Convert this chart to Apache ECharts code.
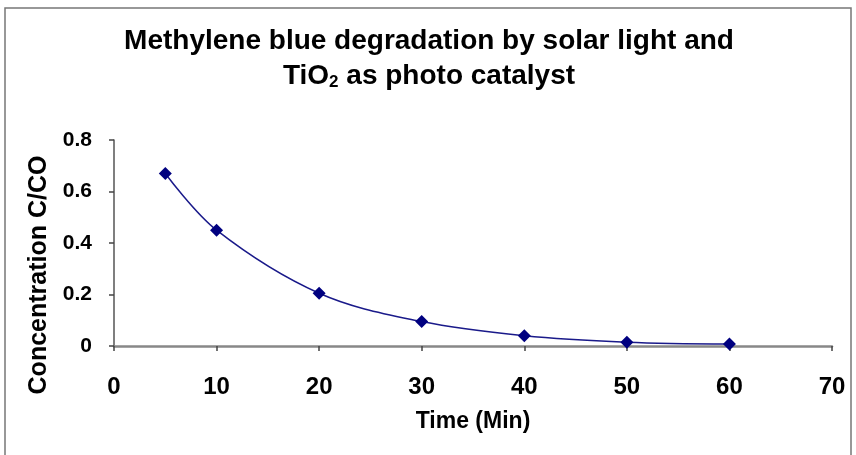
<!DOCTYPE html>
<html><head><meta charset="utf-8">
<script src="https://cdn.jsdelivr.net/npm/echarts@6/dist/echarts.min.js"></script>
<style>html,body{margin:0;padding:0;background:#fff}#c{width:856px;height:455px}</style>
</head><body><div id="c"></div>
<script>
const timeMin = [5, 10, 20, 30, 40, 50, 60];
const concentration = [0.67, 0.45, 0.205, 0.095, 0.04, 0.015, 0.008];
const xTicks = [0, 10, 20, 30, 40, 50, 60, 70];
const yTicks = [0, 0.2, 0.4, 0.6, 0.8];
const FONT = "'Liberation Sans', Arial, sans-serif";
const chart = echarts.init(document.getElementById('c'));
chart.setOption({
  animation: false,
  title: {
    text: 'Methylene blue degradation by solar light and\nTiO{sub|2} as photo catalyst',
    left: 424, top: 19, textAlign: 'center',
    textStyle: { fontFamily: FONT, fontWeight: 'bold', fontSize: 28, color: '#000', lineHeight: 35,
      rich: { sub: { fontFamily: FONT, fontWeight: 'bold', fontSize: 17, color: '#000', lineHeight: 35, padding: [12,0,0,0] } } }
  },
  graphic: [{ type: 'rect', shape: { x: 5, y: 8, width: 846, height: 460 }, style: { fill: 'none', stroke: '#777', lineWidth: 1.5 }, silent: true }],
  grid: { left: 114, right: 24, top: 140, bottom: 109, containLabel: false },
  xAxis: {
    type: 'value', min: 0, max: 70, interval: 10,
    name: 'Time (Min)', nameLocation: 'middle', nameGap: 64,
    nameTextStyle: { fontFamily: FONT, fontWeight: 'bold', fontSize: 23, color: '#000' },
    axisLine: { lineStyle: { color: '#888', width: 2.5 } },
    axisTick: { show: true, length: 5, lineStyle: { color: '#444', width: 1.5 } },
    axisLabel: { fontFamily: FONT, fontWeight: 'bold', fontSize: 24, color: '#000', margin: 29,
      formatter: v => xTicks.includes(v) ? String(v) : '' },
    splitLine: { show: false }
  },
  yAxis: {
    type: 'value', min: 0, max: 0.8, interval: 0.2,
    name: 'Concentration C/CO', nameLocation: 'middle', nameGap: 60, nameRotate: 90,
    nameTextStyle: { fontFamily: FONT, fontWeight: 'bold', fontSize: 25, color: '#000', padding: [0, 64, 0, 0] },
    axisLine: { show: true, lineStyle: { color: '#555', width: 1.5 } },
    axisTick: { show: true, length: 5, lineStyle: { color: '#444', width: 1.5 } },
    axisLabel: { fontFamily: FONT, fontWeight: 'bold', fontSize: 21, color: '#000', margin: 22,
      formatter: v => { const t = yTicks.find(y => Math.abs(y - v) < 1e-9); return t === undefined ? '' : (t === 0 ? '0' : t.toFixed(1)); } },
    splitLine: { show: false }
  },
  series: [{
    type: 'line', smooth: 0.35,
    data: timeMin.map((t, i) => [t, concentration[i]]),
    symbol: 'diamond', symbolSize: 13,
    itemStyle: { color: '#000080' },
    lineStyle: { color: '#1a1a8a', width: 1.5 }
  }]
});
</script></body></html>
